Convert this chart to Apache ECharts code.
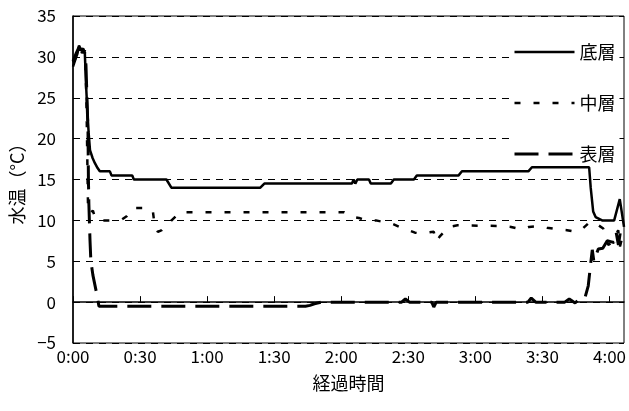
<!DOCTYPE html>
<html>
<head>
<meta charset="utf-8">
<script src="https://cdn.jsdelivr.net/npm/echarts@6/dist/echarts.min.js"></script>
<style>
html,body{margin:0;padding:0;background:#fff;}
#chart{width:629px;height:411px;}
</style>
</head>
<body>
<div id="chart"></div>
<script>
// Series names
const seriesNames = ['底層', '中層', '表層'];
// x tick labels (minutes -> h:mm)
const xTickMinutes = [0, 30, 60, 90, 120, 150, 180, 210, 240];
const xTickLabels = ['0:00', '0:30', '1:00', '1:30', '2:00', '2:30', '3:00', '3:30', '4:00'];
const yTicks = [-5, 0, 5, 10, 15, 20, 25, 30, 35];

// [elapsed minutes, water temperature °C]
const bottomData = [
  [0, 28.8], [1.2, 29.8], [2.0, 30.4], [2.7, 31.4], [3.3, 30.8], [3.9, 30.6], [4.6, 31.0], [5.3, 30.4],
  [5.8, 26.8], [6.4, 23.5], [7.0, 20.7], [7.6, 18.6], [8.8, 17.6], [9.8, 17.0], [11.0, 16.4],
  [12.0, 16.0], [16.5, 16.0], [17.2, 15.5], [26.5, 15.5], [27.2, 15.0], [41.8, 15.0], [44.0, 14.0],
  [83.8, 14.0], [85.6, 14.5], [124.8, 14.5], [125.5, 15.0], [126.3, 14.5], [127.2, 15.0],
  [132.4, 15.0], [133.2, 14.5], [142.2, 14.5], [143.5, 15.0], [152.5, 15.0], [153.8, 15.5],
  [172.5, 15.5], [174.0, 16.0], [203.7, 16.0], [205.3, 16.5], [230.9, 16.5], [231.6, 14.0],
  [232.7, 11.1], [233.8, 10.4], [236.7, 10.0], [242.1, 10.0], [244.6, 12.6], [246.5, 9.2]
];
const middleData = [
  [0, 29.3], [1.5, 30.0], [2.7, 31.0], [4.0, 30.5], [5.3, 30.8], [6.0, 25.0], [6.7, 12.0],
  [7.5, 10.8], [8.9, 11.2], [10.0, 10.2], [13.0, 10.0], [18.0, 10.0], [21.8, 10.1], [24.0, 10.5],
  [26.7, 11.5], [33.4, 11.5], [35.7, 11.2], [36.6, 9.2], [38.0, 8.6], [39.7, 8.8], [42.0, 9.6],
  [44.1, 10.0], [46.0, 10.5], [47.7, 11.0], [121.3, 11.0], [124.0, 10.5], [127.9, 10.3],
  [131.0, 10.0], [135.5, 10.0], [139.0, 9.8], [142.7, 9.6], [146.0, 9.2], [150.2, 8.8],
  [153.0, 8.5], [155.6, 8.4], [158.0, 8.5], [161.4, 8.6], [162.3, 7.4], [164.0, 8.0],
  [168.1, 9.2], [172.0, 9.4], [192.6, 9.3], [196.0, 9.2], [200.6, 8.9], [204.0, 9.2],
  [208.6, 9.3], [212.0, 9.1], [217.1, 8.9], [221.0, 8.8], [225.1, 8.6], [228.0, 9.0],
  [231.4, 9.85], [234.0, 9.6], [237.2, 9.0], [239.4, 7.0], [241.6, 7.4], [243.9, 8.8],
  [244.7, 6.8], [246.5, 8.8]
];
const surfaceData = [
  [0, 29.5], [1.5, 30.5], [2.7, 31.2], [4.0, 30.8], [5.3, 30.5], [5.8, 29.0], [6.7, 21.0],
  [6.9, 15.0], [7.1, 12.0], [7.6, 7.6], [8.0, 5.0], [8.9, 3.3], [10.7, 0.9], [11.6, -0.5],
  [104.0, -0.5], [106.0, -0.4], [108.0, -0.2], [111.0, 0.0], [147.0, 0.0], [148.7, 0.4],
  [150.5, 0.0], [160.5, 0.0], [161.4, -0.6], [162.5, 0.0], [203.5, 0.0], [205.0, 0.5],
  [207.0, 0.0], [220.0, 0.0], [222.0, 0.4], [224.6, -0.1], [226.8, 0.4], [229.0, 0.5],
  [230.5, 2.0], [231.5, 4.5], [232.3, 6.4], [233.0, 5.0], [235.0, 6.5], [237.0, 6.6],
  [239.0, 7.5], [240.5, 7.4], [242.0, 7.3], [243.0, 8.5], [244.0, 7.0], [245.0, 8.8],
  [246.5, 9.0]
];

const FONT = '"Noto Sans CJK JP", "Liberation Sans", sans-serif';
const lineStyles = [
  {color: '#000', width: 2.5, type: 'solid'},
  {color: '#000', width: 2.5, type: [6, 13]},
  {color: '#000', width: 3, type: [24, 10]}
];
const chart = echarts.init(document.getElementById('chart'), null, {renderer: 'canvas'});

function fmtX(v) {
  const i = xTickMinutes.indexOf(v);
  return i >= 0 ? xTickLabels[i] : '';
}

chart.setOption({
  animation: false,
  backgroundColor: '#fff',
  grid: {
    left: 73, right: 2, top: 16, bottom: 68,
    show: true, borderColor: '#000', borderWidth: 1
  },
  legend: {
    data: seriesNames.map((n, i) => ({
      name: n,
      itemStyle: {opacity: 0},
      lineStyle: {color: '#000', width: lineStyles[i].width, type: lineStyles[i].type}
    })),
    orient: 'vertical',
    left: 509, top: 39,
    itemWidth: 60, itemHeight: 14, itemGap: 33,
    backgroundColor: '#fff',
    padding: [4, 4, 4, 4],
    textStyle: {fontSize: 18, color: '#000', fontFamily: FONT}
  },
  xAxis: {
    type: 'value', min: 0, max: 246.5, interval: 30,
    name: '経過時間', nameLocation: 'middle', nameGap: 31,
    nameTextStyle: {fontSize: 18, color: '#000', fontFamily: FONT},
    axisLine: {lineStyle: {color: '#000', width: 1.5}},
    axisTick: {show: true, inside: true, length: 6, lineStyle: {color: '#000'}},
    axisLabel: {formatter: fmtX, fontSize: 17, color: '#000', fontFamily: FONT, margin: 5, showMaxLabel: false},
    splitLine: {show: false}
  },
  yAxis: {
    type: 'value', min: yTicks[0], max: yTicks[yTicks.length - 1], interval: 5,
    name: '水温（°C）', nameLocation: 'middle', nameGap: 41,
    nameTextStyle: {fontSize: 18, color: '#000', fontFamily: FONT},
    axisLine: {show: true, lineStyle: {color: '#000', width: 1.5}},
    axisTick: {show: false},
    axisLabel: {formatter: v => String(v).replace('-', '−'), fontSize: 17, color: '#000', fontFamily: FONT, margin: 17},
    splitLine: {show: true, lineStyle: {color: '#000', width: 1, type: [7, 6]}}
  },
  series: seriesNames.map((n, i) => ({
    name: n, type: 'line', data: [bottomData, middleData, surfaceData][i],
    showSymbol: false, symbol: 'none',
    lineStyle: lineStyles[i], itemStyle: {color: '#000'}, z: 4 - i
  }))
});
</script>
</body>
</html>
